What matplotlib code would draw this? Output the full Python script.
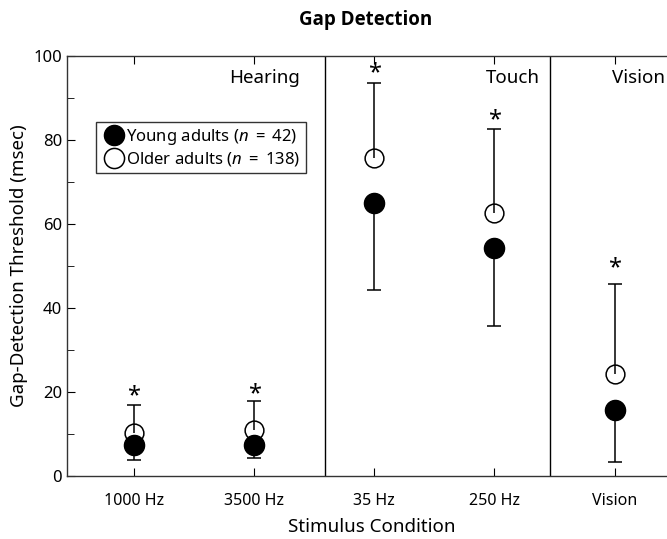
import matplotlib
matplotlib.use("Agg")
import matplotlib.pyplot as plt
from matplotlib.lines import Line2D

plt.rcParams['font.family'] = ['Noto Sans', 'DejaVu Sans']
plt.rcParams['mathtext.fontset'] = 'custom'
plt.rcParams['mathtext.rm'] = 'Noto Sans'
plt.rcParams['mathtext.it'] = 'Noto Sans:italic'

# Data
conditions = ["1000 Hz", "3500 Hz", "35 Hz", "250 Hz", "Vision"]
young_mean = [7.5, 7.5, 65.0, 54.2, 15.7]
young_low = [3.8, 4.2, 44.2, 35.8, 3.3]      # lower end of young error bar
older_mean = [10.3, 11.0, 75.8, 62.6, 24.2]
older_high = [16.8, 17.8, 93.5, 82.5, 45.6]  # upper end of older error bar
star_y = [20.5, 21.0, 97.3, 86.3, 51.0]

senses = ["Hearing", "Touch", "Vision"]
sense_x = [2.38, 4.38, 5.42]
dividers = [2.59, 4.46]

x = list(range(1, len(conditions) + 1))

fig = plt.figure(figsize=(6.67, 5.39), dpi=100)
ax = fig.add_axes([67 / 667, 63 / 539, 610 / 667, 420 / 539])

# one-sided error bars: older upward, young downward
ax.vlines(x, older_mean, older_high, color='black', lw=1.1, zorder=2)
ax.plot(x, older_high, ls='none', marker='_', ms=9.5, mew=1.1, color='black', zorder=2)
ax.vlines(x, young_low, young_mean, color='black', lw=1.1, zorder=2)
ax.plot(x, young_low, ls='none', marker='_', ms=9.5, mew=1.1, color='black', zorder=2)

ax.plot(x, older_mean, ls='none', marker='o', ms=13.5, mfc='none', mec='black',
        mew=1.1, zorder=3)
ax.plot(x, young_mean, ls='none', marker='o', ms=14.5, mfc='black', mec='black',
        zorder=4)

for xi, sy in zip(x, star_y):
    ax.annotate("*", (xi, sy), xytext=(0, -4.5), textcoords='offset points',
                ha='center', va='center', fontsize=17)

for d in dividers:
    ax.axvline(d, color='black', lw=1)

for sx, name in zip(sense_x, senses):
    ax.text(sx, 94.7, name, ha='right', va='center', fontsize=13.5)

ax.set_xlim(0.442, 5.52)
ax.set_ylim(0, 100)
ax.set_xticks(x)
ax.set_xticklabels(conditions, fontsize=11.5)
ax.set_yticks([0, 20, 40, 60, 80, 100])
ax.set_yticks([10, 30, 50, 70, 90], minor=True)
ax.tick_params(axis='y', which='major', direction='in', length=6, labelsize=12)
ax.tick_params(axis='y', which='minor', direction='in', length=5)
ax.tick_params(axis='x', which='major', direction='in', length=6, top=True, pad=12)
ax.spines['right'].set_visible(False)
for s in ax.spines.values():
    s.set_linewidth(1)
    s.set_color('#333333')

ax.set_xlabel("Stimulus Condition", fontsize=13.5, labelpad=7)
ax.set_ylabel("Gap-Detection Threshold (msec)", fontsize=13.5, labelpad=4)
fig.text(366 / 667, 1 - 20 / 539, "Gap Detection", ha='center', va='center',
         fontsize=13.5, fontweight='bold', family=['Open Sans', 'DejaVu Sans'])

handles = [
    Line2D([], [], marker='o', ls='none', ms=14.5, mfc='black', mec='black'),
    Line2D([], [], marker='o', ls='none', ms=14.5, mfc='white', mec='black', mew=1.1),
]
labels = [r"Young adults ($n$ $=$ 42)", r"Older adults ($n$ $=$ 138)"]
leg = ax.legend(handles, labels, loc='upper left', bbox_to_anchor=(0.048, 0.843),
                fontsize=12, frameon=True, fancybox=False, handletextpad=0.0,
                handlelength=1.5, borderpad=0.3, labelspacing=0.2,
                borderaxespad=0)
leg.get_frame().set_edgecolor('black')
leg.get_frame().set_linewidth(1)

fig.savefig("out.png", dpi=100)
